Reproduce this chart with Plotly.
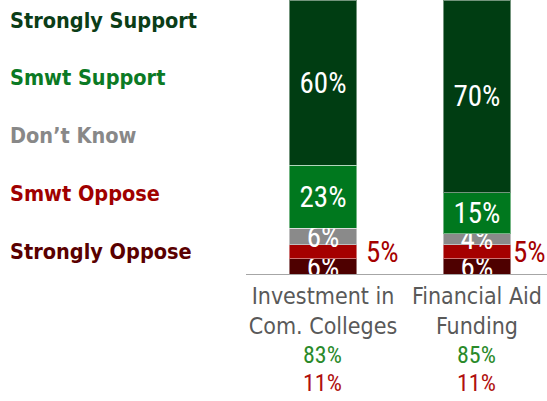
import plotly.graph_objects as go

categories = ["Investment in<br>Com. Colleges", "Financial Aid<br>Funding"]
series_names = ["Strongly Oppose", "Smwt Oppose", "Don\u2019t Know", "Smwt Support", "Strongly Support"]
strongly_oppose = [6, 6]
smwt_oppose = [5, 5]
dont_know = [6, 4]
smwt_support = [23, 15]
strongly_support = [60, 70]

bar_colors = ["#4e0000", "#a50000", "#8a8a8a", "#00781e", "#003d12"]
legend_colors = ["#5a0000", "#a00000", "#888888", "#0b7a24", "#0b3d17"]

LABEL_FONT = "Liberation Sans Narrow, Roboto Condensed, DejaVu Sans Condensed, sans-serif"
TEXT_FONT = "DejaVu Sans Condensed, Tahoma, sans-serif"

W, H = 547, 401
PLOT_L, PLOT_H = 246, 275
PLOT_W = W - PLOT_L
OPPOSE_LABEL_SHIFT = [60, 53]   # px right of bar centre for the outside "5%" labels

values = [strongly_oppose, smwt_oppose, dont_know, smwt_support, strongly_support]
xs = list(range(len(categories)))

fig = go.Figure()
for name, vals, col in zip(series_names, values, bar_colors):
    show_text = name != "Smwt Oppose"
    fig.add_bar(
        name=name, x=xs, y=vals, width=0.44,
        marker=dict(color=col, line=dict(color="rgba(255,255,255,0.45)", width=1)),
        text=[f"{v}%" for v in vals] if show_text else None,
        textposition="inside", insidetextanchor="middle", textangle=0,
        textfont=dict(color="white", size=29, family=LABEL_FONT),
        hoverinfo="skip",
    )

# smwt oppose labels sit outside the bar, to the right
for i in xs:
    mid = strongly_oppose[i] + smwt_oppose[i] / 2
    fig.add_annotation(x=i, y=mid, xref="x", yref="y", xanchor="center",
                       text=f"{smwt_oppose[i]}%", showarrow=False,
                       xshift=OPPOSE_LABEL_SHIFT[i],
                       font=dict(color="#a50000", size=29, family=LABEL_FONT))

# net support / oppose under the category labels
for i in xs:
    sup = strongly_support[i] + smwt_support[i]
    opp = strongly_oppose[i] + smwt_oppose[i]
    fig.add_annotation(x=i, y=0, xref="x", yref="paper", yanchor="middle",
                       text=f"{sup}%", showarrow=False, yshift=-80,
                       font=dict(color="#2a8a2a", size=24, family=LABEL_FONT))
    fig.add_annotation(x=i, y=0, xref="x", yref="paper", yanchor="middle",
                       text=f"{opp}%", showarrow=False, yshift=-108,
                       font=dict(color="#b01010", size=24, family=LABEL_FONT))

# legend as coloured text down the left side
legend_y = [251, 193, 135, 77, 20]
for name, col, py in zip(series_names, legend_colors, legend_y):
    fig.add_annotation(x=(8 - PLOT_L) / PLOT_W, y=1 - py / PLOT_H,
                       xref="paper", yref="paper",
                       xanchor="left", yanchor="middle", showarrow=False,
                       text=f"<b>{name}</b>",
                       font=dict(color=col, size=21.5, family=TEXT_FONT))

fig.update_layout(
    width=W, height=H, barmode="stack", showlegend=False,
    plot_bgcolor="white", paper_bgcolor="white",
    margin=dict(l=PLOT_L, r=0, t=0, b=H - PLOT_H),
    uniformtext=dict(minsize=28, mode="show"),
    xaxis=dict(range=[-0.5, 1.455], tickvals=xs, ticktext=categories,
               showgrid=False, zeroline=False, showline=False, ticks="",
               ticklabelstandoff=5,
               tickfont=dict(color="#595959", size=23, family=TEXT_FONT)),
    yaxis=dict(range=[0, 100], visible=False),
    shapes=[dict(type="line", xref="paper", yref="y", x0=0, x1=1, y0=0, y1=0,
                 line=dict(color="#a6a6a6", width=2))],
)

# drop the default 8px page margin so the chart sits flush in the window
fig.write_html("out.html", config={"displayModeBar": False},
               post_script="document.body.style.margin='0';")
